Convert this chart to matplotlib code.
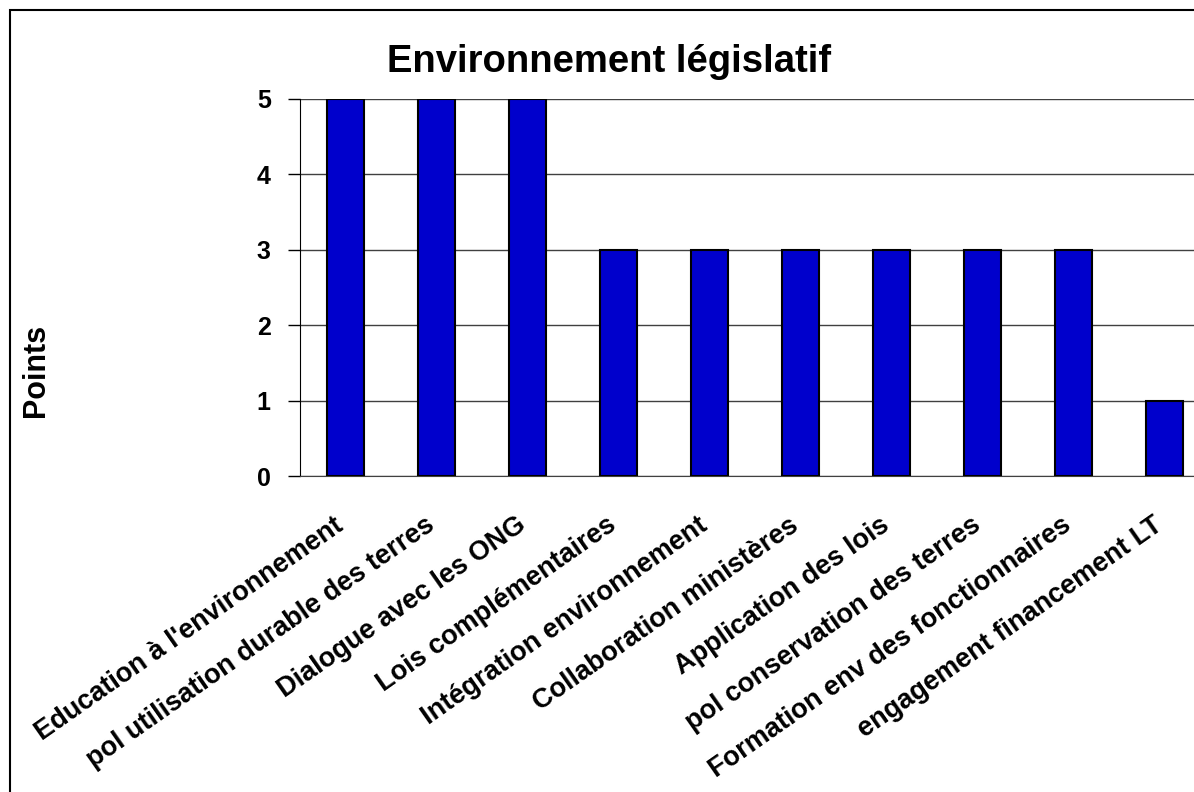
import matplotlib
matplotlib.use("Agg")
import matplotlib.pyplot as plt
import matplotlib.transforms as mtransforms
from matplotlib.patches import Rectangle

plt.rcParams['font.family'] = ['Liberation Sans', 'DejaVu Sans']

categories = [
    "Education à l'environnement",
    "pol utilisation durable des terres",
    "Dialogue avec les ONG",
    "Lois complémentaires",
    "Intégration environnement",
    "Collaboration ministères",
    "Application des lois",
    "pol conservation des terres",
    "Formation env des fonctionnaires",
    "engagement financement LT",
]
points = [5, 5, 5, 3, 3, 3, 3, 3, 3, 1]
yticks = [0, 1, 2, 3, 4, 5]

W, H = 1194, 792
fig = plt.figure(figsize=(W / 100, H / 100), dpi=100)

# outer frame, runs off the right and bottom edges
fig.patches.append(Rectangle((10 / W, -0.05), 1.1, 1 - 10 / H + 0.05,
                             transform=fig.transFigure, fill=False,
                             edgecolor="black", linewidth=1.5))

# plot area is wider than the figure: last category gets clipped
ax = fig.add_axes([300 / W, 1 - 476 / H, 910 / W, 377 / H])
x = range(len(categories))
ax.bar(x, points, width=0.4, color="#0000CC", edgecolor="black",
       linewidth=1.5, zorder=3)

ax.set_xlim(-0.5, len(categories) - 0.5)
ax.set_ylim(0, 5)
ax.set_yticks(yticks)
ax.set_yticklabels([str(t) for t in yticks], fontsize=18, fontweight="bold")
ax.tick_params(axis="y", direction="out", length=9, width=1, pad=12)
ax.yaxis.grid(True, color="#404040", linewidth=1, zorder=0)

ax.set_xticks(list(x))
ax.set_xticklabels(categories, rotation=35, ha="right", va="top",
                   rotation_mode="anchor", fontsize=19.5, fontweight="bold")
ax.tick_params(axis="x", length=0, pad=26)
shift = mtransforms.ScaledTranslation(-12 / 100, 0, fig.dpi_scale_trans)
for lbl in ax.get_xticklabels():
    lbl.set_transform(lbl.get_transform() + shift)

for side in ("top", "right"):
    ax.spines[side].set_visible(False)
ax.spines["left"].set_color("black")
ax.spines["bottom"].set_color("#404040")

fig.text(609 / W, 1 - 72 / H, "Environnement législatif", ha="center",
         va="baseline", fontsize=27.5, fontweight="bold")
fig.text(36 / W, 1 - 370 / H, "Points", rotation=90, ha="center",
         va="center", fontsize=22, fontweight="bold")

fig.savefig("out.png", dpi=100)
